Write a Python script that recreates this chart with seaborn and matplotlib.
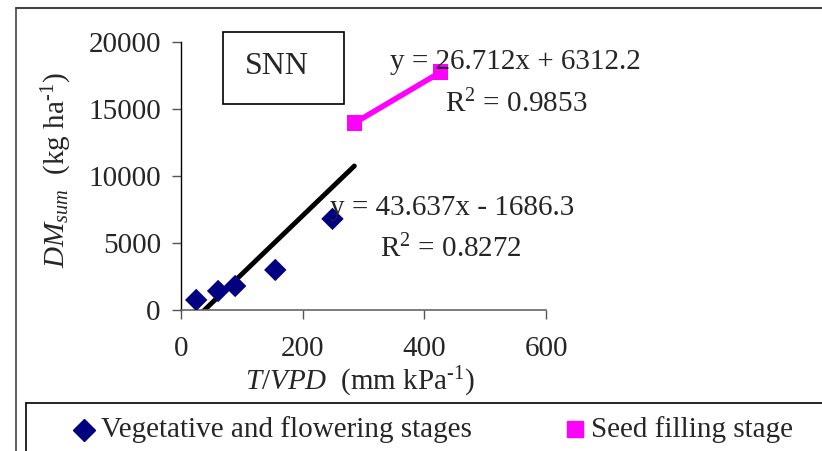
import matplotlib
matplotlib.use("Agg")
import matplotlib.pyplot as plt
import seaborn as sns
import numpy as np
import pandas as pd
from matplotlib.patches import Rectangle
from matplotlib.lines import Line2D

# Data
veg_x = [25, 61, 89, 155, 249]
veg_y = [750, 1420, 1790, 2990, 6800]
seed_x = [285, 427]
seed_y = [13950, 17760]
veg_slope, veg_icpt = 43.637, -1686.3
seed_slope, seed_icpt = 26.712, 6312.2
trend_x = [20, 285]
x_ticks = [0, 200, 400, 600]
y_ticks = [0, 5000, 10000, 15000, 20000]

sns.set_style("white")
plt.rcParams['font.family'] = ['Liberation Serif', 'DejaVu Serif']
plt.rcParams['mathtext.fontset'] = 'custom'
plt.rcParams['mathtext.rm'] = 'Liberation Serif'
plt.rcParams['mathtext.it'] = 'Liberation Serif:italic'

W, H = 822, 451
FS = 21
fig = plt.figure(figsize=(W / 100, H / 100), dpi=100)
ax = fig.add_axes([181 / W, 1 - 310 / H, (546 - 181) / W, (310 - 42) / H])

df_veg = pd.DataFrame({"x": veg_x, "y": veg_y})
df_seed = pd.DataFrame({"x": seed_x, "y": seed_y})
tx = np.array(trend_x, dtype=float)
df_trend = pd.DataFrame({"x": tx, "y": veg_slope * tx + veg_icpt})

sns.lineplot(data=df_trend, x="x", y="y", color="black", linewidth=3.5, ax=ax, zorder=2)
sns.lineplot(data=df_seed, x="x", y="y", color="#FF00FF", linewidth=4, ax=ax, zorder=2)
sns.scatterplot(data=df_veg, x="x", y="y", marker="D", s=130, color="#000080",
                edgecolor="none", ax=ax, zorder=3)
sns.scatterplot(data=df_seed, x="x", y="y", marker="s", s=120, color="#FF00FF",
                edgecolor="none", ax=ax, zorder=3)

ax.set_xlim(0, 600)
ax.set_ylim(0, 20000)
ax.set_xticks(x_ticks)
ax.set_yticks(y_ticks)
ax.tick_params(axis="both", direction="out", length=6.5, width=1, labelsize=FS,
               color="#555555", pad=8, bottom=True, left=True)
ax.tick_params(axis="x", pad=12)
for s in ["top", "right"]:
    ax.spines[s].set_visible(False)
ax.spines["left"].set_color("black")
ax.spines["bottom"].set_color("#666666")
ax.spines["left"].set_linewidth(1)
ax.spines["bottom"].set_linewidth(1.2)
ax.set_xlabel("")
ax.set_ylabel("")
ax.patch.set_alpha(0)

def ft(xp, yp, s, size=FS, **kw):
    fig.text(xp / W, 1 - yp / H, s, fontsize=size, va="center", **kw)

# Axis labels
ft(360, 382, "$T/VPD$  (mm kPa$^{\\mathrm{\u20101}}$)", ha="center")
ft(57, 170, "$DM_{sum}$  (kg ha$^{\\mathrm{\u20101}}$)", ha="center", rotation=90)

# Equations
ft(390, 62, "y = 26.712x + 6312.2")
ft(445, 104, r"R$^{2}$ = 0.9853")
ft(330, 208, "y = 43.637x - 1686.3")
ft(380, 249, r"R$^{2}$ = 0.8272")

# SNN box
fig.patches.append(Rectangle((223 / W, 1 - 104 / H), (344 - 223) / W, (104 - 32) / H,
                             transform=fig.transFigure, fill=False, edgecolor="black",
                             linewidth=1.2))
ft(245, 66, "SNN", size=23)

# Outer frame (top + left)
fig.add_artist(Line2D([16 / W, 1], [1 - 8 / H, 1 - 8 / H], transform=fig.transFigure,
                      color="#444444", linewidth=1.5))
fig.add_artist(Line2D([16 / W, 16 / W], [0, 1 - 8 / H], transform=fig.transFigure,
                      color="#444444", linewidth=1.2))

# Legend box
fig.add_artist(Line2D([26 / W, 1], [1 - 403 / H, 1 - 403 / H], transform=fig.transFigure,
                      color="black", linewidth=1.2))
fig.add_artist(Line2D([26 / W, 26 / W], [0, 1 - 403 / H], transform=fig.transFigure,
                      color="black", linewidth=1.2))
fig.add_artist(Line2D([84 / W], [1 - 430 / H], transform=fig.transFigure, marker="D",
                      markersize=11.5, color="#000080", linestyle="none"))
ft(101, 430, "Vegetative and flowering stages")
fig.add_artist(Line2D([575 / W], [1 - 429 / H], transform=fig.transFigure, marker="s",
                      markersize=12, color="#FF00FF", linestyle="none"))
ft(591, 430, "Seed filling stage")

fig.savefig("out.png", dpi=100)
